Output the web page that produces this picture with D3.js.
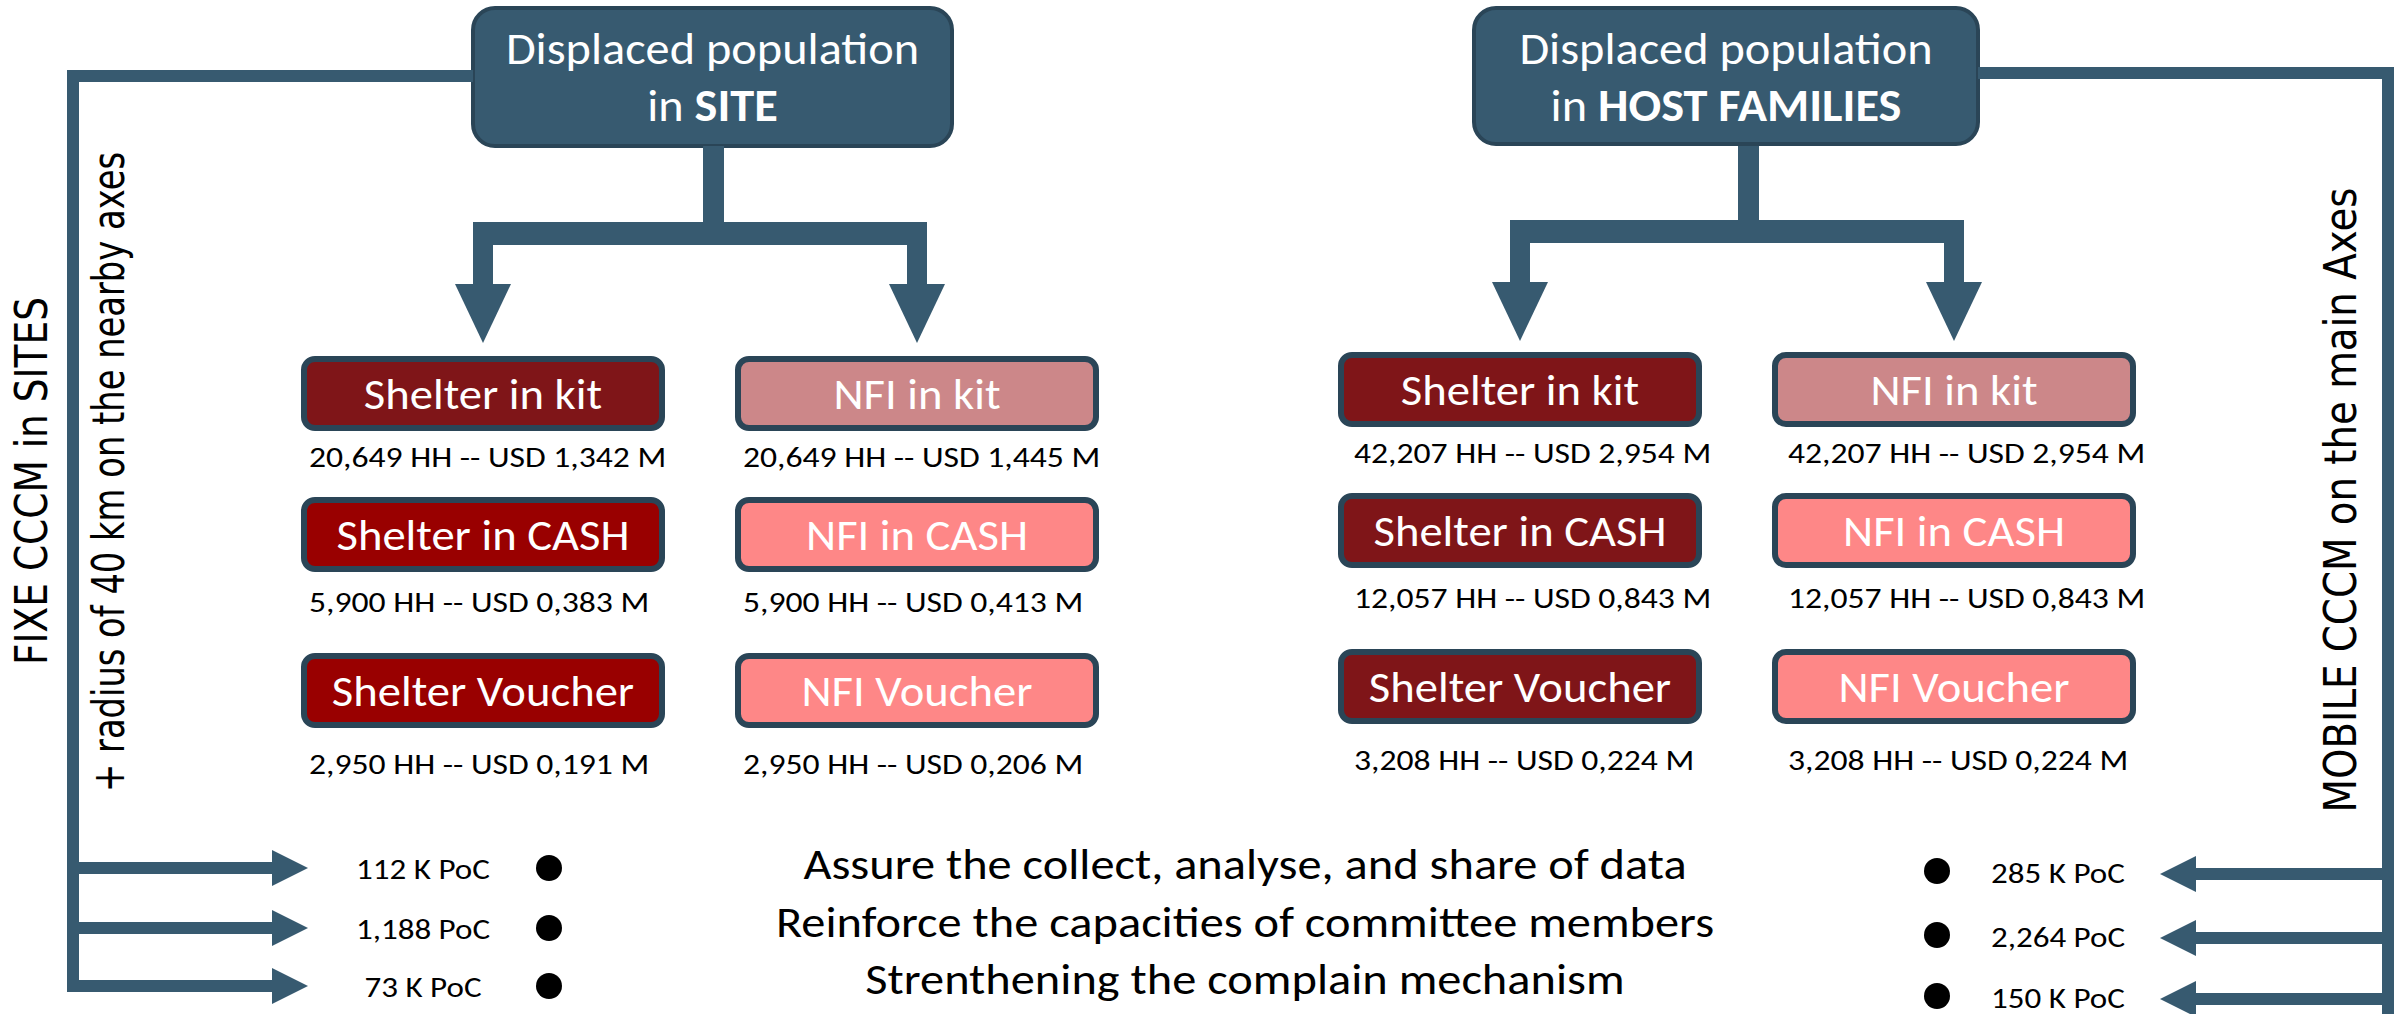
<!DOCTYPE html>
<html>
<head>
<meta charset="utf-8">
<script src="https://cdn.jsdelivr.net/npm/d3@7"></script>
<style>
  body { margin: 0; background: #fff; }
  text { font-family: Carlito, Lato, sans-serif; }
  .vert { font-family: "DejaVu Sans", sans-serif; }
</style>
</head>
<body>
<div class="canvas"></div>
<script>
// ---- data ----
const groups = ['SITE', 'HOST FAMILIES'];
const items = ['Shelter in kit', 'NFI in kit', 'Shelter in CASH', 'NFI in CASH', 'Shelter Voucher', 'NFI Voucher'];
const siteHH = [20649, 20649, 5900, 5900, 2950, 2950];
const siteUSD = [1.342, 1.445, 0.383, 0.413, 0.191, 0.206];
const hostHH = [42207, 42207, 12057, 12057, 3208, 3208];
const hostUSD = [2.954, 2.954, 0.843, 0.843, 0.224, 0.224];
const fixePoC = ['112 K PoC', '1,188 PoC', '73 K PoC'];
const mobilePoC = ['285 K PoC', '2,264 PoC', '150 K PoC'];
const actions = [
    'Assure the collect, analyse, and share of data',
    'Reinforce the capacities of committee members',
    'Strenthening the complain mechanism'
];
const sideLabels = ['FIXE CCCM in SITES', '+ radius of 40 km  on the nearby axes', 'MOBILE CCCM on the main Axes'];

// ---- styles ----
const blue = '#375a70';
const edge = '#2a4557';
const siteFill = ['#7f1518', '#cc8789', '#990000', '#fe8787', '#990000', '#fe8787'];
const hostFill = ['#7f1518', '#cc8789', '#7f1518', '#fe8787', '#7f1518', '#fe8787'];

const dims = { width: 2402, height: 1014, boxW: 364, boxH: 75 };

const svg = d3.select('.canvas')
                .append('svg')
                .attr('width', dims.width)
                .attr('height', dims.height);

// the source picture is a bit wider than the fonts, so stretch text a little
const stretch = (sel, k) => sel.each(function() {
    const w = this.getComputedTextLength();
    d3.select(this).attr('textLength', w * k).attr('lengthAdjust', 'spacingAndGlyphs');
});

// layout scales
const groupX = d3.scaleOrdinal().domain(groups).range([0, 1037]);
const colX = d3.scaleOrdinal().domain(['Shelter', 'NFI']).range([483, 917]);
const rowY = d3.scaleOrdinal().domain(['kit', 'CASH', 'Voucher']).range([356, 497, 653]);
const valY = d3.scaleOrdinal().domain(['kit', 'CASH', 'Voucher']).range([467, 612, 774]);
const groupDy = d3.scaleOrdinal().domain(groups).range([0, -4]);

const topBox = {
    'SITE': { x: 473, w: 479, stem: 713 },
    'HOST FAMILIES': { x: 1474, w: 504, stem: 1748 }
};

const hhFmt = d3.format(',');
const usdFmt = d3.formatLocale({ decimal: ',', thousands: '.', grouping: [3], currency: ['', ''] }).format('.3f');

const rowOf = name => name.includes('kit') ? 'kit' : name.includes('CASH') ? 'CASH' : 'Voucher';
const colOf = name => name.startsWith('Shelter') ? 'Shelter' : 'NFI';

// ---- top boxes + connectors ----
groups.forEach(g => {
    const b = topBox[g];
    const gg = svg.append('g');
    const dy = groupDy(g) / 2;

    gg.append('rect')
        .attr('x', b.x).attr('y', 8).attr('width', b.w).attr('height', 138 + dy)
        .attr('rx', 22).attr('fill', blue).attr('stroke', edge).attr('stroke-width', 4);

    gg.append('text')
        .attr('x', b.x + b.w / 2).attr('y', 64)
        .attr('text-anchor', 'middle').attr('fill', '#fff').attr('font-size', 46)
        .text('Displaced population')
        .call(stretch, 1.05);
    const t2 = gg.append('text')
        .attr('x', b.x + b.w / 2).attr('y', 121)
        .attr('text-anchor', 'middle').attr('fill', '#fff').attr('font-size', 46);
    t2.append('tspan').text('in ');
    t2.append('tspan').attr('font-weight', 'bold').text(g);
    t2.call(stretch, 1.05);

    const cx = ['Shelter', 'NFI'].map(c => groupX(g) + colX(c));
    // stem, bar, legs, heads
    gg.append('rect').attr('x', b.stem - 10).attr('y', 146).attr('width', 21).attr('height', 78).attr('fill', blue);
    gg.append('rect').attr('x', cx[0] - 10).attr('y', 222 + dy).attr('width', cx[1] - cx[0] + 20).attr('height', 23).attr('fill', blue);
    cx.forEach(x => {
        gg.append('rect').attr('x', x - 10).attr('y', 240).attr('width', 20).attr('height', 45 + dy).attr('fill', blue);
        gg.append('path')
            .attr('d', `M${x - 28},${284 + dy}L${x + 28},${284 + dy}L${x},${343 + dy}Z`)
            .attr('fill', blue);
    });
});

// ---- item boxes ----
const cells = [];
groups.forEach((g, gi) => {
    items.forEach((name, i) => {
        cells.push({
            group: g, name,
            hh: gi === 0 ? siteHH[i] : hostHH[i],
            usd: gi === 0 ? siteUSD[i] : hostUSD[i],
            fill: gi === 0 ? siteFill[i] : hostFill[i]
        });
    });
});

const boxes = svg.selectAll('g.item')
                .data(cells)
                .enter()
                .append('g')
                .attr('class', 'item')
                .attr('transform', d => `translate(${groupX(d.group) + colX(colOf(d.name)) - dims.boxW / 2}, ${rowY(rowOf(d.name)) + groupDy(d.group)})`);

boxes.append('rect')
    .attr('x', 3).attr('y', 3)
    .attr('width', dims.boxW - 6).attr('height', dims.boxH - 6)
    .attr('rx', 11)
    .attr('fill', d => d.fill)
    .attr('stroke', edge)
    .attr('stroke-width', 6);

boxes.append('text')
    .attr('x', dims.boxW / 2)
    .attr('y', dims.boxH / 2 + 15)
    .attr('text-anchor', 'middle')
    .attr('fill', '#fff')
    .attr('font-size', 44)
    .text(d => d.name)
    .call(stretch, 1.06);

boxes.append('text')
    .attr('x', d => d.group === 'SITE' ? 8 : 16)
    .attr('y', d => valY(rowOf(d.name)) - rowY(rowOf(d.name)))
    .attr('fill', '#000')
    .attr('font-size', 29)
    .text(d => `${hhFmt(d.hh)} HH  -- USD ${usdFmt(d.usd)} M`)
    .call(stretch, 1.16);

// ---- side brackets ----
const leftRows = d3.scaleOrdinal().domain(fixePoC).range([868, 928, 986]);
const rightRows = d3.scaleOrdinal().domain(mobilePoC).range([874, 938, 999]);

svg.append('path')
    .attr('d', `M${topBox['SITE'].x},76H73V992`)
    .attr('fill', 'none').attr('stroke', blue).attr('stroke-width', 12);

svg.append('path')
    .attr('d', `M${topBox['HOST FAMILIES'].x + topBox['HOST FAMILIES'].w},73H2388V1014`)
    .attr('fill', 'none').attr('stroke', blue).attr('stroke-width', 12);

const hArrow = (x0, xBase, xTip, y) =>
    `M${x0},${y - 6}L${xBase},${y - 6}L${xBase},${y - 18}L${xTip},${y}L${xBase},${y + 18}L${xBase},${y + 6}L${x0},${y + 6}Z`;

fixePoC.forEach(p => {
    const y = leftRows(p);
    svg.append('path').attr('d', hArrow(73, 272, 308, y)).attr('fill', blue);
    svg.append('text').attr('x', 423).attr('y', y + 11).attr('text-anchor', 'middle')
        .attr('font-size', 28).text(p).call(stretch, 1.18);
    svg.append('circle').attr('cx', 549).attr('cy', y).attr('r', 13).attr('fill', '#000');
});

mobilePoC.forEach(p => {
    const y = rightRows(p);
    svg.append('path').attr('d', hArrow(2388, 2196, 2160, y)).attr('fill', blue);
    svg.append('text').attr('x', 2058).attr('y', y + 9).attr('text-anchor', 'middle')
        .attr('font-size', 28).text(p).call(stretch, 1.18);
    svg.append('circle').attr('cx', 1937).attr('cy', y - 3).attr('r', 13).attr('fill', '#000');
});

// ---- actions ----
const actY = d3.scaleOrdinal().domain(actions).range([879, 937, 994]);
svg.selectAll('text.action')
    .data(actions)
    .enter()
    .append('text')
    .attr('class', 'action')
    .attr('x', 1245)
    .attr('y', d => actY(d))
    .attr('text-anchor', 'middle')
    .attr('font-size', 44)
    .text(d => d)
    .call(stretch, 1.1);

// ---- vertical labels ----
const vert = [
    { x: 47, y: 481, len: 368 },
    { x: 124, y: 472, len: 640 },
    { x: 2356, y: 500, len: 625 }
];
svg.selectAll('text.vert')
    .data(sideLabels)
    .enter()
    .append('text')
    .attr('class', 'vert')
    .attr('transform', (d, i) => `translate(${vert[i].x}, ${vert[i].y}) rotate(-90)`)
    .attr('text-anchor', 'middle')
    .attr('font-size', 44)
    .attr('textLength', (d, i) => vert[i].len)
    .attr('lengthAdjust', 'spacingAndGlyphs')
    .text(d => d);
</script>
</body>
</html>
